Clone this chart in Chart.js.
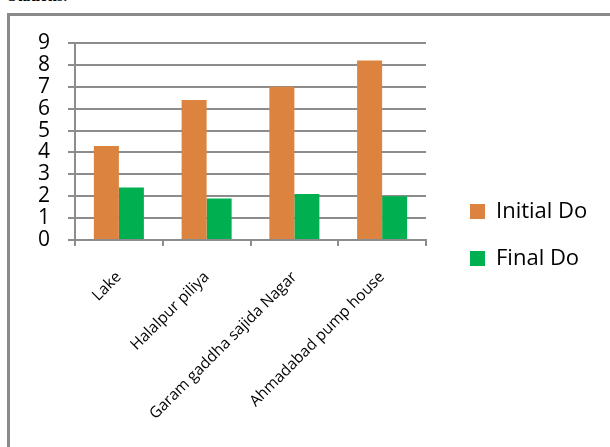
<!DOCTYPE html>
<html>
<head>
<meta charset="utf-8">
<script src="https://cdn.jsdelivr.net/npm/chart.js@4"></script>
<style>
  html, body { margin: 0; padding: 0; background: #fff; overflow: hidden; }
  body { width: 610px; height: 447px; position: relative; }
  #caption {
    position: absolute; left: 8px; top: -13px;
    font: bold 16px "Liberation Serif", serif; color: #000;
  }
  #frame {
    position: absolute; left: 7px; top: 13px; width: 620px; height: 460px;
    border: 3px solid #8a8a8a; box-sizing: border-box;
  }
  #wrap { position: absolute; left: 0; top: 0; width: 610px; height: 447px; }
</style>
</head>
<body>
<div id="caption">Stations.</div>
<div id="frame"></div>
<div id="wrap"><canvas id="myChart" width="610" height="447"></canvas></div>
<script>
const stations = ["Lake", "Halalpur piliya", "Garam gaddha sajida Nagar", "Ahmadabad pump house"];
const initialDo = [4.3, 6.4, 7.0, 8.2];
const finalDo = [2.4, 1.9, 2.1, 2.0];
const yTicks = [0, 1, 2, 3, 4, 5, 6, 7, 8, 9];

const gridColor = "#8c8c8c";

// nudge the legend away from the plot, like the office chart
const legendShift = {
  id: "legendShift",
  afterLayout(chart) {
    const lg = chart.legend;
    lg.left += 19;
    lg.right += 19;
    lg.top -= 10;
    lg.bottom -= 10;
  },
};

const ctx = document.getElementById("myChart").getContext("2d");

const chart = new Chart(ctx, {
  type: "bar",
  data: {
    labels: stations,
    datasets: [
      {
        label: "Initial Do",
        backgroundColor: "#dc843f",
        data: initialDo,
        barPercentage: 1,
        categoryPercentage: 0.57,
      },
      {
        label: "Final Do",
        backgroundColor: "#00b050",
        data: finalDo,
        barPercentage: 1,
        categoryPercentage: 0.57,
      },
    ],
  },
  options: {
    responsive: false,
    animation: false,
    layout: { padding: { left: 0, right: 42, top: 43, bottom: 0 } },
    plugins: {
      tooltip: { enabled: false },
      legend: {
        position: "right",
        align: "center",
        labels: {
          color: "#000",
          font: { family: "Open Sans", size: 22 },
          boxWidth: 15,
          boxHeight: 15,
          padding: 25,
        },
      },
    },
    scales: {
      x: {
        grid: {
          display: true,
          drawOnChartArea: false,
          color: gridColor,
          lineWidth: 2,
          tickLength: 6,
          offset: true,
        },
        border: { color: gridColor, width: 2 },
        ticks: {
          color: "#000",
          font: { family: "Open Sans", size: 15.5 },
          minRotation: 45,
          maxRotation: 45,
          padding: 22,
        },
        afterFit: (scale) => {
          scale.height = 207;
        },
      },
      y: {
        min: 0,
        max: 9,
        afterBuildTicks: (scale) => {
          scale.ticks = yTicks.map((v) => ({ value: v }));
        },
        grid: {
          color: gridColor,
          lineWidth: 2,
          tickLength: 7,
        },
        border: { color: gridColor, width: 2 },
        ticks: {
          color: "#000",
          font: { family: "Open Sans", size: 21 },
          padding: 18,
          autoSkip: false,
        },
        afterFit: (scale) => {
          scale.width = 75;
        },
      },
    },
  },
  plugins: [legendShift],
});
</script>
</body>
</html>
